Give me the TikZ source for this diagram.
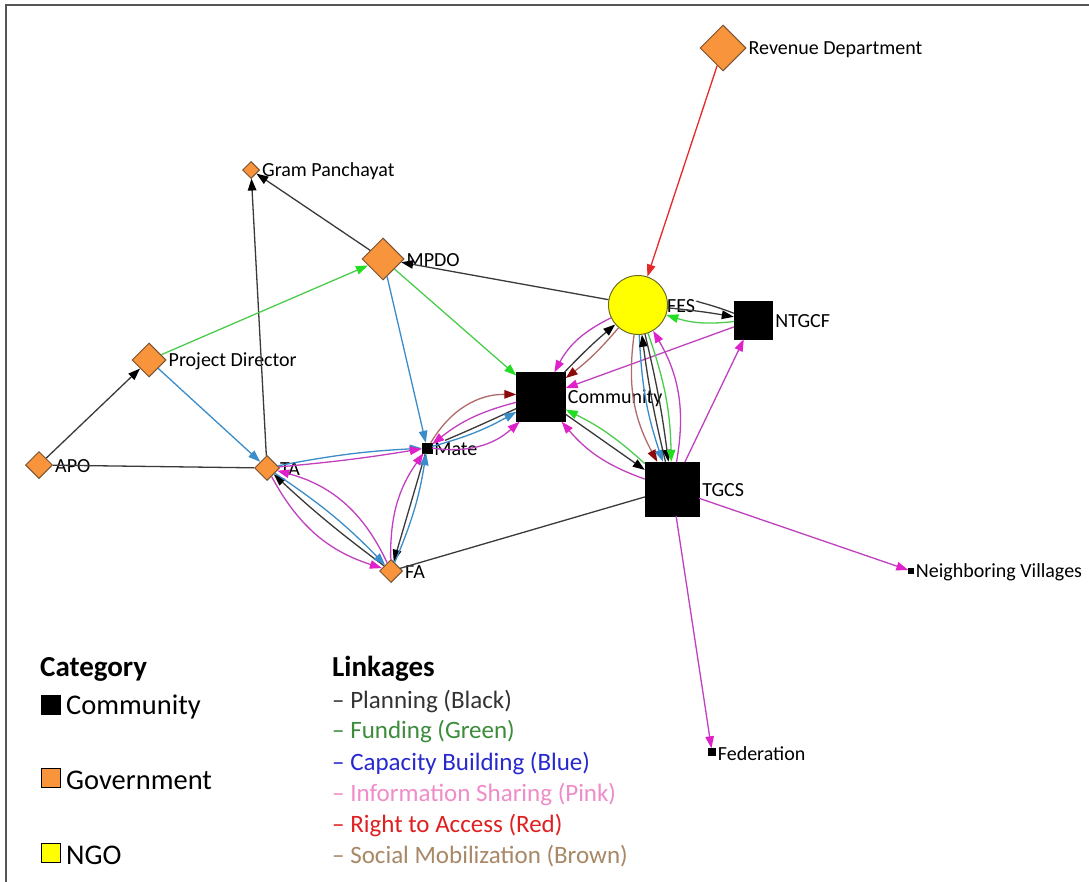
\documentclass[tikz,border=0pt]{standalone}
\usepackage{fontspec}
\setmainfont{Carlito}
\usetikzlibrary{shapes.geometric,arrows.meta}

\definecolor{govfill}{HTML}{F7943C}
\definecolor{govline}{HTML}{7A5230}
\definecolor{ngofill}{HTML}{FFFF00}
\definecolor{ngoline}{HTML}{6E6E2A}
\definecolor{cplan}{HTML}{3A3A3A}
\definecolor{cfund}{HTML}{4CCC4C}
\definecolor{cfundtip}{HTML}{22DD22}
\definecolor{ccap}{HTML}{3A8DC8}
\definecolor{cinfo}{HTML}{C040C0}
\definecolor{cinfotip}{HTML}{E020C8}
\definecolor{caccess}{HTML}{E82828}
\definecolor{cmob}{HTML}{B06A6A}
\definecolor{cmobtip}{HTML}{8B0A0A}
\definecolor{frameline}{HTML}{555555}
% legend text colours
\definecolor{lgplan}{HTML}{333333}
\definecolor{lgfund}{HTML}{3C8C3C}
\definecolor{lgcap}{HTML}{2828D0}
\definecolor{lginfo}{HTML}{F08CC8}
\definecolor{lgaccess}{HTML}{E02020}
\definecolor{lgmob}{HTML}{A88866}

\newcommand\lblfont{\fontsize{20}{22}\selectfont}
\newcommand\catfont{\fontsize{28.5}{30}\selectfont}
\newcommand\headfont{\fontsize{29}{31}\selectfont\bfseries}
\newcommand\linkfont{\fontsize{25}{27}\selectfont}

\tikzset{
  x=1pt, y=-1pt,
  every label/.style={font=\lblfont, inner sep=1pt, text=black, yshift=-1.5pt},
  label distance=1pt,
  gov/.style={diamond, draw=govline, fill=govfill, line width=1pt, inner sep=0pt, aspect=1},
  comm/.style={rectangle, draw=black, fill=black, inner sep=0pt},
  ngo/.style={circle, draw=ngoline, fill=ngofill, line width=1pt, inner sep=0pt},
  edgebase/.style={line width=1.3pt},
  lplan/.style={edgebase, draw=cplan, -{Triangle[length=12pt,width=8.5pt,color=black]}},
  lplanline/.style={edgebase, draw=cplan},
  lfund/.style={edgebase, draw=cfund, -{Triangle[length=12pt,width=8.5pt,color=cfundtip]}},
  lcapb/.style={edgebase, draw=ccap, -{Triangle[length=12pt,width=8.5pt,color=ccap]}},
  linfo/.style={edgebase, draw=cinfo, -{Triangle[length=12pt,width=8.5pt,color=cinfotip]}},
  laccess/.style={edgebase, draw=caccess, -{Triangle[length=12pt,width=8.5pt,color=caccess]}},
  lmob/.style={edgebase, draw=cmob, -{Triangle[length=12pt,width=8.5pt,color=cmobtip]}},
  catsq/.style={rectangle, draw=black, line width=0.8pt, minimum size=19pt, inner sep=0pt},
  cattxt/.style={font=\catfont, inner sep=0pt, anchor=west},
  headtxt/.style={font=\headfont, inner sep=0pt, anchor=west},
  linktxt/.style={font=\linkfont, inner sep=0pt, anchor=west},
}

\begin{document}
\begin{tikzpicture}
\useasboundingbox (0,0) rectangle (1089,882);
\fill[white] (0,0) rectangle (1089,882);

% frame
\draw[frameline, line width=2pt] (6,882) -- (6,5) -- (1089,5);

% actors
\node[gov, minimum size=46pt, label=0:Revenue Department] (rev) at (723,48) {};
\node[gov, minimum size=17pt, label=0:Gram Panchayat] (gp) at (251,170) {};
\node[gov, minimum size=42pt, label=0:MPDO] (mpdo) at (383,259) {};
\node[gov, minimum size=34pt, label=0:Project Director] (pd) at (149,360) {};
\node[gov, minimum size=27pt, label=0:APO] (apo) at (39,465) {};
\node[gov, minimum size=25pt, label={[label distance=-1pt]0:TA}] (ta) at (267,468) {};
\node[gov, minimum size=23pt, label=0:FA] (fa) at (391,571) {};
\node[comm, minimum size=10pt, label=0:Mate] (mate) at (427,448) {};
\node[comm, minimum size=49pt, label=0:Community] (com) at (541,397) {};
\node[ngo, minimum size=59pt, label={[label distance=-2pt]0:FES}] (fes) at (638,305) {};
\node[comm, minimum size=38pt, label={[label distance=2pt]0:NTGCF}] (ntgcf) at (753,320) {};
\node[comm, minimum size=54pt, label={[label distance=2pt]0:TGCS}] (tgcs) at (672,489) {};
\node[comm, minimum size=5pt, label=0:Neighboring Villages] (nv) at (911,571) {};
\node[comm, minimum size=7pt, label=0:Federation] (fed) at (712,752) {};

% government links
\draw[laccess] (rev) -- (fes);
\draw[lplan] (mpdo) -- (gp);
\draw[lplan] (ta) -- (gp);
\draw[lplan] (fes) -- (mpdo);
\draw[lfund] (pd) -- (mpdo);
\draw[lplan] (apo) -- (pd);
\draw[lplanline] (apo) -- (ta);
\draw[lcapb] (pd) -- (ta);
\draw[lcapb] (mpdo) -- (mate);
\draw[lfund] (mpdo) -- (com);

% TA - Mate
\draw[lcapb] (ta) to[bend left=4] (mate);
\draw[linfo] (ta) to[bend right=2] (mate);

% TA - FA
\draw[linfo] (fa) to[bend right=25] (ta);
\draw[lplan] (fa) to[bend left=3] (ta);
\draw[lcapb] (ta) to[bend left=6] (fa);
\draw[linfo] (ta) to[bend right=22] (fa);

% FA - Mate
\draw[linfo] (fa) to[bend left=18] (mate);
\draw[lplan] (mate) -- (fa);
\draw[lcapb] (fa) to[bend right=7] (mate);

% Mate - Community
\draw[lmob] (mate) to[bend left=30] (com);
\draw[linfo] (com) to[bend right=12] (mate);
\draw[lplanline, shorten <=14pt] (mate) to[bend right=1] (com);
\draw[lcapb] (mate) to[bend right=7] (com);
\draw[linfo] (mate) to[bend right=25] (com);

% FES - Community
\draw[linfo] (fes) to[bend right=18] (com);
\draw[lplan] (com) to[bend left=3] (fes);
\draw[lmob] (fes) to[bend left=6] (com);
\draw[linfo] (ntgcf) -- (com);

% FES - NTGCF
\draw[lplanline, shorten <=30pt] (fes) to[bend left=12] (ntgcf);
\draw[lplan] (fes) to[bend left=2] (ntgcf);
\draw[lfund] (ntgcf) to[bend left=12] (fes);

% FES - TGCS
\draw[lmob] (fes) to[bend right=18] (tgcs);
\draw[lcapb] (fes) to[bend right=8] (tgcs);
\draw[lplan] (tgcs) to[bend left=3] (fes);
\draw[lplan] (fes) to[bend left=3] (tgcs);
\draw[lfund] (fes) to[bend left=9] (tgcs);
\draw[linfo] (tgcs) to[bend right=20] (fes);

% Community - TGCS
\draw[lfund] (tgcs) to[bend right=8] (com);
\draw[lplan] (com) -- (tgcs);
\draw[linfo] (tgcs) to[bend left=15] (com);

% TGCS outward
\draw[linfo] (tgcs) -- (ntgcf);
\draw[linfo] (tgcs) -- (nv);
\draw[linfo] (tgcs) -- (fed);
\draw[lplanline] (fa) -- (tgcs);

% legend: categories
\node[headtxt] (cathead) at (40,669) {Category};
\node[catsq, fill=black] (sqcom) at (51,705) {};
\node[cattxt] (txcom) at (66,707) {Community};
\node[catsq, fill=govfill] (sqgov) at (51,778) {};
\node[cattxt] (txgov) at (66,780) {Government};
\node[catsq, fill=ngofill] (sqngo) at (51,853) {};
\node[cattxt] (txngo) at (66,855) {NGO};

% legend: linkages
\node[headtxt] (linkhead) at (332,669) {Linkages};
\node[linktxt, text=lgplan] (lkplan) at (332,701) {– Planning (Black)};
\node[linktxt, text=lgfund] (lkfund) at (332,732) {– Funding (Green)};
\node[linktxt, text=lgcap] (lkcap) at (332,763) {– Capacity Building (Blue)};
\node[linktxt, text=lginfo] (lkinfo) at (332,794) {– Information Sharing (Pink)};
\node[linktxt, text=lgaccess] (lkaccess) at (332,825) {– Right to Access (Red)};
\node[linktxt, text=lgmob] (lkmob) at (332,856) {– Social Mobilization (Brown)};
\end{tikzpicture}
\end{document}
